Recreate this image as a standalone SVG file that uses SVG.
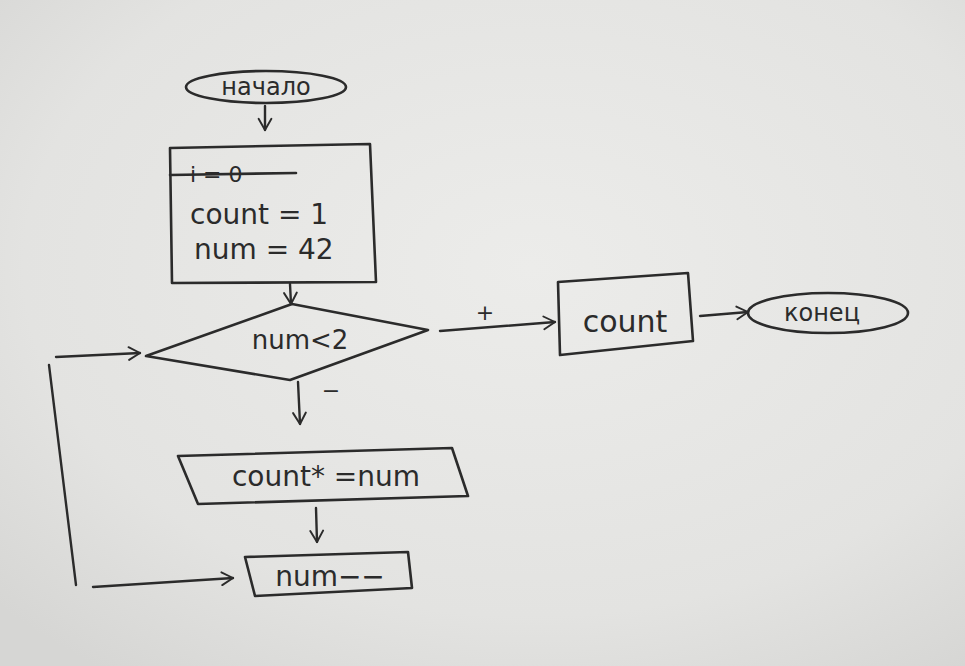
<svg xmlns="http://www.w3.org/2000/svg" width="965" height="666" viewBox="0 0 965 666">
<defs>
<radialGradient id="paper" cx="55%" cy="40%" r="75%">
<stop offset="0" stop-color="#ececea"/>
<stop offset="0.7" stop-color="#e3e3e1"/>
<stop offset="1" stop-color="#d6d6d4"/>
</radialGradient>
<marker id="arr" viewBox="0 0 20 20" refX="18" refY="10" markerWidth="16" markerHeight="16" markerUnits="userSpaceOnUse" orient="auto">
<path d="M4,2 L18,10 L4,18" fill="none" stroke="#2b2b2b" stroke-width="2.4" stroke-linecap="round" stroke-linejoin="round"/>
</marker>
</defs>
<style>
.s{fill:none;stroke:#2b2b2b;stroke-width:2.6;stroke-linecap:round;stroke-linejoin:round}
.c{fill:none;stroke:#2b2b2b;stroke-width:2.4;stroke-linecap:round}
.t{font-family:"DejaVu Sans","Liberation Sans",sans-serif;fill:#2b2b2b}
</style>
<rect width="965" height="666" fill="url(#paper)"/>

<g id="start">
<ellipse class="s" cx="266" cy="87" rx="80" ry="16"/>
<text class="t" x="266" y="95" font-size="24" text-anchor="middle">начало</text>
</g>

<g id="init">
<polygon class="s" points="170,148 370,144 376,282 172,283"/>
<text class="t" x="190" y="182" font-size="22">i = 0</text>
<line class="s" x1="170" y1="175" x2="296" y2="173"/>
<text class="t" x="190" y="224" font-size="28">count = 1</text>
<text class="t" x="194" y="259" font-size="28">num = 42</text>
</g>

<g id="cond">
<polygon class="s" points="146,356 292,304 428,330 290,380"/>
<text class="t" x="300" y="349" font-size="26" text-anchor="middle">num&lt;2</text>
</g>

<g id="out">
<polygon class="s" points="558,282 688,273 693,341 560,355"/>
<text class="t" x="625" y="332" font-size="30" text-anchor="middle">count</text>
</g>

<g id="end">
<ellipse class="s" cx="828" cy="313" rx="80" ry="20"/>
<text class="t" x="822" y="321" font-size="24" text-anchor="middle">конец</text>
</g>

<g id="mult">
<polygon class="s" points="178,456 452,448 468,496 198,504"/>
<text class="t" x="326" y="486" font-size="28" text-anchor="middle">count* =num</text>
</g>

<g id="dec">
<polygon class="s" points="245,557 408,552 412,588 255,596"/>
<text class="t" x="330" y="586" font-size="28" text-anchor="middle">num−−</text>
</g>

<g id="connectors">
<line class="c" x1="265" y1="106" x2="265" y2="130" marker-end="url(#arr)"/>
<line class="c" x1="290" y1="284" x2="291" y2="304" marker-end="url(#arr)"/>
<line class="c" x1="440" y1="331" x2="555" y2="322" marker-end="url(#arr)"/>
<text class="t" x="485" y="320" font-size="22" text-anchor="middle">+</text>
<line class="c" x1="700" y1="316" x2="748" y2="312" marker-end="url(#arr)"/>
<line class="c" x1="298" y1="382" x2="300" y2="424" marker-end="url(#arr)"/>
<text class="t" x="331" y="398" font-size="22" text-anchor="middle">−</text>
<line class="c" x1="316" y1="508" x2="317" y2="542" marker-end="url(#arr)"/>
<line class="c" x1="93" y1="587" x2="233" y2="578" marker-end="url(#arr)"/>
<line class="c" x1="49" y1="365" x2="76" y2="585"/>
<line class="c" x1="56" y1="357" x2="140" y2="353" marker-end="url(#arr)"/>
</g>
</svg>
